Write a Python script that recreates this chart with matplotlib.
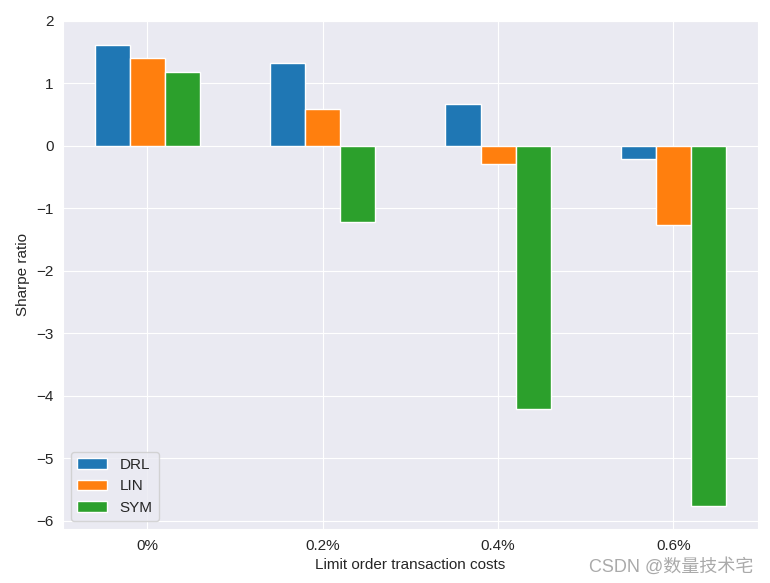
import numpy as np
import matplotlib
matplotlib.use("Agg")
import matplotlib.pyplot as plt
import seaborn as sns

costs = ["0%", "0.2%", "0.4%", "0.6%"]
drl = [1.62, 1.33, 0.67, -0.21]
lin = [1.41, 0.59, -0.29, -1.26]
sym = [1.18, -1.22, -4.21, -5.76]

sns.set_style("darkgrid")
plt.rcParams["font.family"] = ["Liberation Sans", "Noto Sans CJK SC"]

fig, ax = plt.subplots(figsize=(7.7, 5.83), dpi=100)
fig.subplots_adjust(left=0.082, right=0.984, top=0.964, bottom=0.093)

x = np.arange(len(costs))
w = 0.2
ax.bar(x - w, drl, w, color="#1f77b4", edgecolor="white", label="DRL")
ax.bar(x, lin, w, color="#ff7f0e", edgecolor="white", label="LIN")
ax.bar(x + w, sym, w, color="#2ca02c", edgecolor="white", label="SYM")

ax.set_ylim(-6.13, 2)
ax.set_xticks(x)
ax.set_xticklabels(costs, fontsize=11)
ax.tick_params(axis="y", labelsize=11)
ax.set_xlabel("Limit order transaction costs", fontsize=11)
ax.set_ylabel("Sharpe ratio", fontsize=11)
ax.legend(loc="lower left", fontsize=11)

fig.text(0.978, 0.012, "CSDN @数量技术宅", ha="right", va="bottom",
         fontsize=13, color="#aaaaaa", family=["Liberation Sans", "Noto Sans CJK SC"])

fig.savefig("out.png", dpi=100)
